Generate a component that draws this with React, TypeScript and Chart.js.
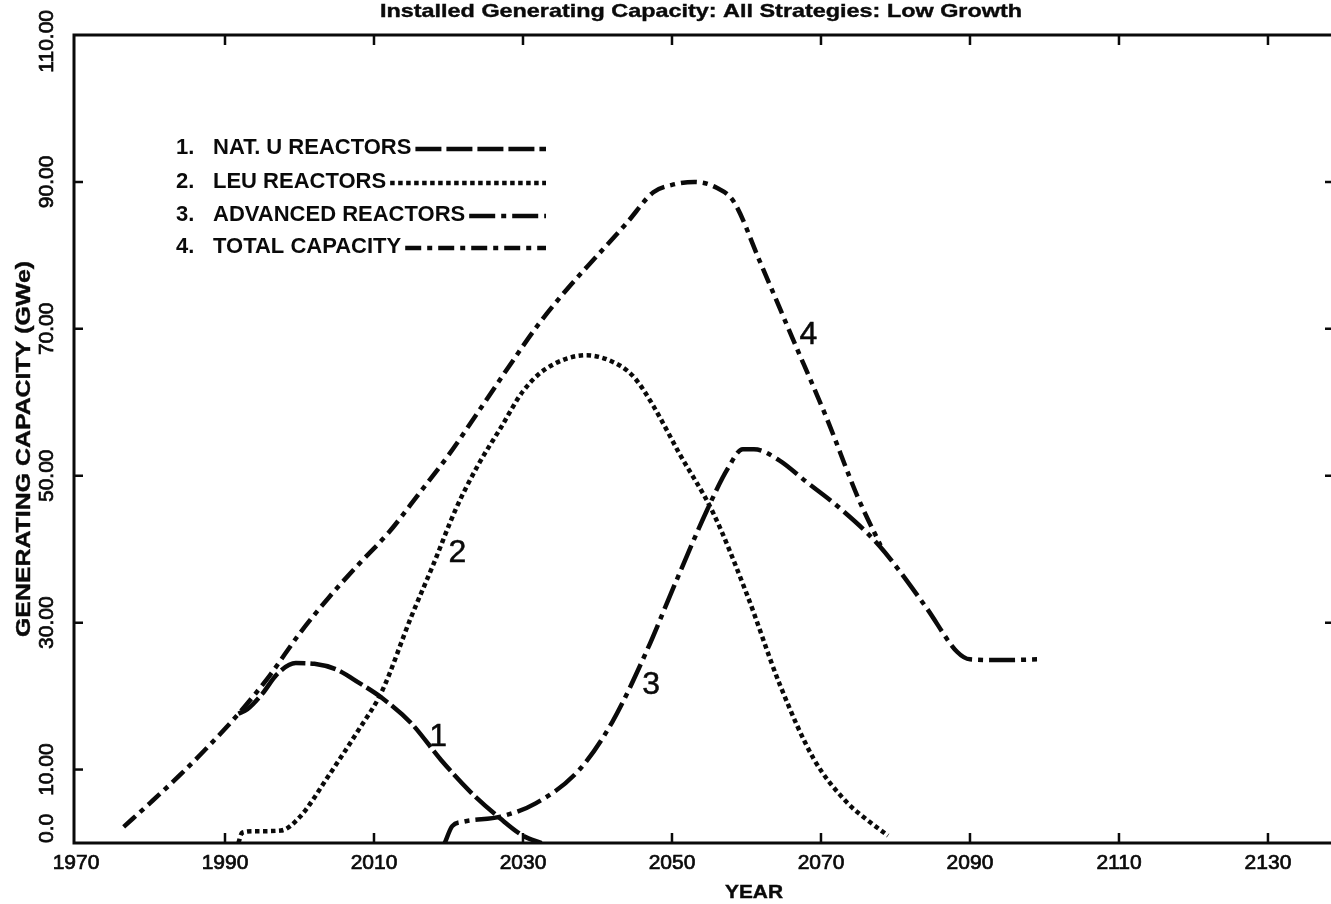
import React, { useEffect, useRef } from "react";
import { Chart, registerables } from "chart.js";

Chart.register(...registerables);

// ---- Data ----
const natUYears = [1991.8, 1993, 1995, 1997, 1999.5, 2002, 2005, 2008, 2011, 2015, 2019, 2023, 2027, 2030, 2032.5];
const natUValues = [17.6, 18.2, 20.3, 23.0, 24.5, 24.4, 23.6, 21.8, 19.8, 16.3, 11.3, 6.9, 3.3, 1.0, 0];

const leuYears = [1991.8, 1992.3, 1994, 1997.5, 2000, 2004, 2008, 2011, 2015, 2018, 2021, 2024, 2027, 2030, 2033, 2038.5, 2043, 2045, 2047.5, 2051, 2055.5, 2060, 2064.5, 2069, 2073.5, 2076, 2079];
const leuValues = [0, 1.4, 1.6, 1.7, 3.5, 9.3, 15.5, 20.5, 30.8, 38, 45.5, 51.5, 56.5, 61.5, 64.5, 66.4, 65, 63.3, 59.5, 53, 45, 34, 21.5, 11.5, 5.5, 3.3, 1.0];

const advYears = [2019.5, 2020.5, 2022, 2027, 2031.7, 2037.5, 2042, 2046.5, 2050.5, 2054.7, 2057.5, 2059.5, 2061, 2064.4, 2068, 2072.4, 2077.8, 2084.1, 2088.3, 2090, 2094, 2099];
const advValues = [0, 2.3, 2.9, 3.6, 5.4, 9.9, 16.5, 25.9, 35.5, 45.3, 51, 53.6, 53.6, 52.1, 49.2, 45.7, 40.5, 32.1, 26, 25, 24.9, 25];

const totalYears = [1976.4, 1980, 1984, 1988, 1992, 1996, 2000, 2004, 2008, 2012, 2016, 2020, 2024, 2028, 2032, 2036, 2040, 2044, 2047.5, 2050, 2053, 2056, 2058.3, 2061.7, 2066.1, 2070.7, 2075.1, 2078];
const totalValues = [2.2, 5.5, 9.3, 13.4, 17.8, 22.8, 28.5, 33.5, 38, 42.3, 47.5, 52.8, 58.7, 64.7, 70.5, 75.5, 80, 84.5, 88.6, 89.6, 90, 89.2, 87.3, 79.4, 68.9, 58, 46.7, 40.5];

const seriesNames = ["NAT. U REACTORS", "LEU REACTORS", "ADVANCED REACTORS", "TOTAL CAPACITY"];
const seriesDashes = [[26, 5], [4.5, 3.5], [26, 6, 5, 6], [16, 6, 5, 6]];

// curve number annotations (data coordinates)
const curveLabelText = ["1", "2", "3", "4"];
const curveLabelYears = [2018.6, 2021.2, 2047.2, 2068.3];
const curveLabelValues = [14.4, 39.5, 21.5, 69.2];

const xTickValues = [1970, 1990, 2010, 2030, 2050, 2070, 2090, 2110, 2130];
const xTickLabels = ["1970", "1990", "2010", "2030", "2050", "2070", "2090", "2110", "2130"];
const yTickValues = [0, 10, 30, 50, 70, 90, 110];
const yTickLabels = ["0.0", "10.00", "30.00", "50.00", "70.00", "90.00", "110.00"];

const TITLE = "Installed Generating Capacity: All Strategies: Low Growth";
const Y_TITLE = "GENERATING CAPACITY (GWe)";
const X_TITLE = "YEAR";

const FONT = "'Liberation Sans', Arial, Helvetica, sans-serif";
const INK = "#0a0a0a";

function toPoints(xs: number[], ys: number[]) {
  return xs.map((x, i) => ({ x, y: ys[i] }));
}

function fitText(
  ctx: CanvasRenderingContext2D,
  text: string,
  x: number,
  y: number,
  font: string,
  targetW: number | null,
  rotate = 0,
  heavy = 0
) {
  ctx.save();
  ctx.font = font;
  ctx.fillStyle = INK;
  ctx.strokeStyle = INK;
  ctx.textAlign = "center";
  ctx.textBaseline = "middle";
  const w = ctx.measureText(text).width;
  const sx = targetW ? targetW / w : 1;
  ctx.translate(x, y);
  if (rotate) ctx.rotate(rotate);
  ctx.scale(sx, 1);
  ctx.fillText(text, 0, 0);
  if (heavy > 0) {
    ctx.lineWidth = heavy;
    ctx.setLineDash([]);
    ctx.strokeText(text, 0, 0);
  }
  ctx.restore();
}

const decorPlugin = {
  id: "decor",
  afterDraw(chart: any) {
    const { ctx, chartArea } = chart;
    const xs = chart.scales.x;
    const ys = chart.scales.y;
    const L = chartArea.left - 2;
    const R = chartArea.right;
    const T = chartArea.top;
    const B = chartArea.bottom;

    ctx.save();
    ctx.strokeStyle = INK;
    ctx.lineWidth = 3;
    ctx.setLineDash([]);
    ctx.beginPath();
    ctx.moveTo(L, T);
    ctx.lineTo(R, T);
    ctx.moveTo(L, T - 1.5);
    ctx.lineTo(L, B + 1.5);
    ctx.moveTo(L, B);
    ctx.lineTo(R, B);
    ctx.stroke();

    // x ticks (inward, bottom and top)
    ctx.lineWidth = 2.5;
    xTickValues.forEach((v) => {
      if (v === xTickValues[0]) return;
      const px = xs.getPixelForValue(v);
      ctx.beginPath();
      ctx.moveTo(px, B);
      ctx.lineTo(px, B - 10);
      ctx.moveTo(px, T);
      ctx.lineTo(px, T + 10);
      ctx.stroke();
    });
    // y ticks (inward, left and right)
    yTickValues.forEach((v) => {
      if (v === 0 || v === 110) return;
      const py = ys.getPixelForValue(v);
      ctx.beginPath();
      ctx.moveTo(L, py);
      ctx.lineTo(L + 9, py);
      if (v >= 30) {
        ctx.moveTo(R - 6, py);
        ctx.lineTo(R, py);
      }
      ctx.stroke();
    });
    ctx.restore();

    // x tick labels
    xTickValues.forEach((v, i) => {
      const px = xs.getPixelForValue(v);
      fitText(ctx, xTickLabels[i], px, B + 20, `21px ${FONT}`, null, 0, 0.7);
    });
    // y tick labels (rotated)
    yTickValues.forEach((v, i) => {
      let py = ys.getPixelForValue(v);
      ctx.save();
      ctx.font = `21px ${FONT}`;
      const w = ctx.measureText(yTickLabels[i]).width;
      ctx.restore();
      if (py + w / 2 > B) py = B - w / 2;
      if (py - w / 2 < 10) py = 10 + w / 2;
      fitText(ctx, yTickLabels[i], 47, py, `21px ${FONT}`, null, -Math.PI / 2, 0.7);
    });

    // titles
    fitText(ctx, TITLE, 701, 12, `bold 19px ${FONT}`, 642, 0, 0.4);
    fitText(ctx, X_TITLE, 754, 893, `bold 18px ${FONT}`, 58, 0, 0.4);
    fitText(ctx, Y_TITLE, 24, 449, `bold 21px ${FONT}`, 376, -Math.PI / 2, 0.4);

    // legend
    const rowsY = [148, 182, 215, 247];
    const lineEnd = 546;
    seriesNames.forEach((name, i) => {
      const y = rowsY[i];
      ctx.save();
      ctx.fillStyle = INK;
      ctx.strokeStyle = INK;
      ctx.font = `bold 22px ${FONT}`;
      ctx.textAlign = "left";
      ctx.textBaseline = "middle";
      ctx.fillText(`${i + 1}.`, 176, y);
      ctx.fillText(name, 213, y);
      const tw = ctx.measureText(name).width;
      ctx.lineWidth = 4.5;
      ctx.setLineDash(seriesDashes[i]);
      ctx.beginPath();
      ctx.moveTo(213 + tw + 4, y + 1);
      ctx.lineTo(lineEnd, y + 1);
      ctx.stroke();
      ctx.restore();
    });

    // curve number labels
    curveLabelText.forEach((t, i) => {
      const px = xs.getPixelForValue(curveLabelYears[i]);
      const py = ys.getPixelForValue(curveLabelValues[i]);
      fitText(ctx, t, px, py, `32px ${FONT}`, null, 0, 0.5);
    });
  },
};

export default function App() {
  const canvasRef = useRef<HTMLCanvasElement | null>(null);

  useEffect(() => {
    const canvas = canvasRef.current;
    if (!canvas) return;
    const mk = (label: string, xs: number[], ys: number[], dash: number[], width: number) => ({
      label,
      data: toPoints(xs, ys),
      borderColor: INK,
      backgroundColor: INK,
      borderWidth: width,
      borderDash: dash,
      borderCapStyle: "butt",
      pointRadius: 0,
      fill: false,
      cubicInterpolationMode: "monotone",
    });
    const chart = new Chart(canvas, {
      type: "line",
      data: {
        datasets: [
          mk(seriesNames[0], natUYears, natUValues, seriesDashes[0], 4.5),
          mk(seriesNames[1], leuYears, leuValues, seriesDashes[1], 4.5),
          mk(seriesNames[2], advYears, advValues, seriesDashes[2], 4.5),
          mk(seriesNames[3], totalYears, totalValues, seriesDashes[3], 4.5),
        ] as any,
      },
      options: {
        animation: false,
        responsive: false,
        maintainAspectRatio: false,
        devicePixelRatio: 1,
        layout: { padding: { top: 35, left: 0, right: 0, bottom: 0 } },
        plugins: {
          legend: { display: false },
          tooltip: { enabled: false },
          title: { display: false },
        },
        scales: {
          x: {
            type: "linear",
            min: 1970,
            max: 2138.46,
            grid: { display: false },
            border: { display: false },
            ticks: { display: false },
            afterBuildTicks: (s: any) => {
              s.ticks = xTickValues.map((v) => ({ value: v }));
            },
            afterFit: (s: any) => {
              s.height = 61;
            },
          },
          y: {
            type: "linear",
            min: 0,
            max: 110,
            grid: { display: false },
            border: { display: false },
            ticks: { display: false },
            afterBuildTicks: (s: any) => {
              s.ticks = yTickValues.map((v) => ({ value: v }));
            },
            afterFit: (s: any) => {
              s.width = 76;
            },
          },
        },
      } as any,
      plugins: [decorPlugin],
    });
    return () => chart.destroy();
  }, []);

  return (
    <div style={{ position: "fixed", left: 0, top: 0, width: 1331, height: 904, background: "#fff" }}>
      <canvas ref={canvasRef} width={1331} height={904} style={{ display: "block", width: 1331, height: 904 }} />
    </div>
  );
}
